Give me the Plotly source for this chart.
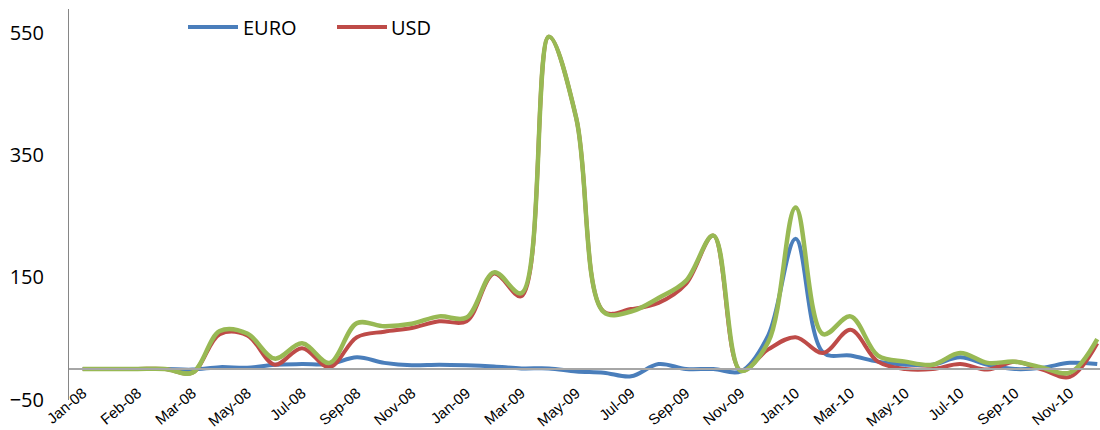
import plotly.graph_objects as go

categories = ["Jan-08", "Jan-08", "Feb-08", "Feb-08", "Mar-08", "Apr-08", "May-08", "Jun-08",
              "Jul-08", "Aug-08", "Sep-08", "Oct-08", "Nov-08", "Dec-08", "Jan-09", "Feb-09",
              "Mar-09", "Apr-09", "May-09", "Jun-09", "Jul-09", "Aug-09", "Sep-09", "Oct-09",
              "Nov-09", "Dec-09", "Jan-10", "Feb-10", "Mar-10", "Apr-10", "May-10", "Jun-10",
              "Jul-10", "Aug-10", "Sep-10", "Oct-10", "Nov-10", "Dec-10"]

euro = [0, 0, 0, 0, -1, 3, 2, 7, 8, 8, 19, 10, 6, 7, 6, 4, 1, 1, -4, -6,
        -12, 8, 0, 0, -4, 55, 213, 27, 22, 12, 7, 7, 19, 7, 0, 2, 10, 8]
usd = [0, 0, 0, 0, -6, 57, 55, 7, 34, 3, 52, 61, 67, 78, 78, 156, 119, 543, 410, 94,
       98, 108, 139, 218, -3, 32, 52, 26, 64, 12, 0, 0, 8, -1, 12, -1, -13, 42]
total = [0, 0, 0, 0, -6, 62, 58, 17, 42, 10, 75, 70, 74, 86, 84, 158, 124, 543, 410, 93,
         94, 116, 144, 218, -3, 44, 264, 57, 86, 22, 12, 7, 26, 10, 12, 2, -6, 49]

y_ticks = [-50, 150, 350, 550]
tick_positions = list(range(0, len(categories), 2))
tick_labels = categories[::2]

x = list(range(len(categories)))

fig = go.Figure()
fig.add_trace(go.Scatter(x=x, y=euro, mode="lines", name="EURO",
                         line=dict(color="#4A7EBB", width=4, shape="spline", smoothing=1)))
fig.add_trace(go.Scatter(x=x, y=usd, mode="lines", name="USD",
                         line=dict(color="#BE4B48", width=4, shape="spline", smoothing=1)))
fig.add_trace(go.Scatter(x=x, y=total, mode="lines", name="Total",
                         line=dict(color="#98B954", width=4.5, shape="spline", smoothing=1)))

W, H = 1100, 430
L, R, T, B = 69, 0, 9, 30
pw, ph = W - L - R, H - T - B

def px_x(p):
    return (p - L) / pw

def px_y(p):
    return (H - B - p) / ph

y_lo, y_hi = -50.7, 588.5
zero_pos = (0 - y_lo) / (y_hi - y_lo)

fig.update_layout(
    width=W, height=H,
    margin=dict(l=L, r=R, t=T, b=B, autoexpand=False),
    paper_bgcolor="white", plot_bgcolor="white",
    showlegend=False,
    xaxis=dict(range=[-0.5, 37.1], tickmode="array", tickvals=tick_positions,
               ticktext=tick_labels, tickangle=-40, showgrid=False, zeroline=False,
               showline=True, linecolor="#A6A6A6", linewidth=1.5, ticks="",
               anchor="free", position=zero_pos, automargin=False,
               ticklabeloverflow="allow", ticklabelstandoff=9,
               tickfont=dict(family="Liberation Sans, Arial", size=15, color="#000000")),
    yaxis=dict(range=[y_lo, y_hi], tickmode="array", tickvals=y_ticks, showgrid=False,
               zeroline=False, showline=True, linecolor="#868686", linewidth=1, ticks="",
               ticklabelstandoff=20, automargin=False,
               tickfont=dict(family="Open Sans", size=20, color="#000000")),
)

legend_items = [("EURO", "#4A7EBB", 188, 238, 241), ("USD", "#BE4B48", 337, 387, 389)]
for name, color, x0, x1, tx in legend_items:
    fig.add_shape(type="line", xref="paper", yref="paper",
                  x0=px_x(x0), x1=px_x(x1), y0=px_y(27), y1=px_y(27),
                  line=dict(color=color, width=4))
    fig.add_annotation(xref="paper", yref="paper", x=px_x(tx), y=px_y(27), text=name,
                       showarrow=False, xanchor="left", yanchor="middle",
                       font=dict(family="Open Sans", size=20, color="#000000"))

fig.write_html("out.html")
